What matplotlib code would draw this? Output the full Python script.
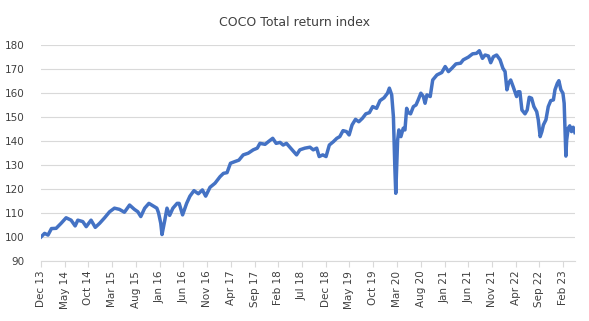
import numpy as np
import pandas as pd
import matplotlib
matplotlib.use('Agg')
import matplotlib.pyplot as plt
import matplotlib.dates as mdates

# COCO total return index
dates = ['2013-12-01', '2013-12-24', '2014-01-15', '2014-02-06', '2014-03-08', '2014-04-09',
         '2014-05-11', '2014-06-12', '2014-07-08', '2014-07-25', '2014-08-26', '2014-09-17',
         '2014-10-18', '2014-11-14', '2014-12-12', '2015-01-13', '2015-02-14', '2015-03-17',
         '2015-04-18', '2015-05-20', '2015-06-22', '2015-07-23', '2015-08-14', '2015-09-02',
         '2015-09-27', '2015-10-24', '2015-11-19', '2015-12-14', '2015-12-25', '2016-01-08',
         '2016-01-16', '2016-02-03', '2016-02-17', '2016-03-05', '2016-03-26', '2016-04-22',
         '2016-05-05', '2016-05-27', '2016-06-22', '2016-07-13', '2016-08-08', '2016-09-05',
         '2016-10-01', '2016-10-22', '2016-11-19', '2016-12-21', '2017-01-22', '2017-02-13',
         '2017-03-08', '2017-03-30', '2017-04-27', '2017-05-23', '2017-06-20', '2017-07-22',
         '2017-08-23', '2017-09-18', '2017-10-05', '2017-11-07', '2017-11-28', '2017-12-26',
         '2018-01-17', '2018-02-11', '2018-03-03', '2018-03-24', '2018-04-20', '2018-05-10',
         '2018-05-28', '2018-06-18', '2018-07-20', '2018-08-22', '2018-09-12', '2018-10-04',
         '2018-10-20', '2018-11-12', '2018-12-03', '2018-12-24', '2019-01-19', '2019-02-10',
         '2019-03-01', '2019-03-22', '2019-04-13', '2019-04-30', '2019-05-19', '2019-06-10',
         '2019-07-01', '2019-07-25', '2019-08-15', '2019-09-07', '2019-09-28', '2019-10-23',
         '2019-11-14', '2019-12-10', '2020-01-01', '2020-01-13', '2020-01-28', '2020-02-08',
         '2020-02-17', '2020-02-23', '2020-02-29', '2020-03-06', '2020-03-14', '2020-03-27',
         '2020-04-11', '2020-04-22', '2020-05-03', '2020-05-13', '2020-05-28', '2020-06-15',
         '2020-07-02', '2020-07-16', '2020-08-02', '2020-08-18', '2020-08-29', '2020-09-10',
         '2020-10-01', '2020-10-17', '2020-11-13', '2020-12-14', '2021-01-05', '2021-01-26',
         '2021-02-17', '2021-03-15', '2021-04-14', '2021-05-01', '2021-06-02', '2021-06-30',
         '2021-07-25', '2021-08-12', '2021-09-01', '2021-09-18', '2021-10-09', '2021-10-24',
         '2021-11-10', '2021-12-01', '2021-12-23', '2022-01-10', '2022-01-24', '2022-02-05',
         '2022-02-15', '2022-03-01', '2022-03-17', '2022-03-28', '2022-04-08', '2022-04-18',
         '2022-04-29', '2022-05-12', '2022-06-01', '2022-06-15', '2022-06-28', '2022-07-13',
         '2022-07-28', '2022-08-15', '2022-08-25', '2022-09-06', '2022-09-17', '2022-09-27',
         '2022-10-13', '2022-10-28', '2022-11-13', '2022-11-30', '2022-12-10', '2022-12-25',
         '2023-01-04', '2023-01-17', '2023-01-30', '2023-02-07', '2023-02-13', '2023-02-18',
         '2023-02-23', '2023-03-05', '2023-03-15', '2023-03-26', '2023-04-06', '2023-04-17']
index_values = [100.0, 101.5, 100.8, 103.5, 103.6, 105.7,
                108.0, 107.0, 104.6, 107.0, 106.4, 104.3,
                107.0, 104.0, 105.7, 108.0, 110.5, 112.0,
                111.5, 110.3, 113.3, 111.5, 110.5, 108.5,
                112.0, 114.0, 113.0, 112.0, 110.0, 105.7,
                101.0, 107.0, 112.0, 109.0, 112.0, 114.0,
                114.0, 109.2, 114.0, 117.0, 119.3, 118.0,
                119.6, 117.0, 120.7, 122.4, 125.1, 126.5,
                126.8, 130.7, 131.4, 132.0, 134.2, 134.9,
                136.3, 137.0, 139.0, 138.6, 139.7, 141.1,
                139.0, 139.4, 138.3, 139.0, 137.0, 135.5,
                134.2, 136.3, 137.0, 137.4, 136.3, 137.0,
                133.5, 134.2, 133.5, 138.3, 139.7, 141.1,
                141.8, 144.3, 143.9, 142.5, 146.7, 149.0,
                148.0, 149.5, 151.3, 151.8, 154.3, 153.6,
                156.8, 158.0, 159.9, 162.0, 159.2, 150.1,
                129.3, 118.2, 129.3, 140.4, 144.6, 141.8,
                145.3, 144.6, 153.6, 151.8, 151.3, 154.3,
                155.0, 157.1, 159.9, 158.5, 155.7, 159.2,
                158.5, 165.4, 167.5, 168.5, 171.0, 168.9,
                170.3, 172.1, 172.4, 173.8, 174.9, 176.3,
                176.5, 177.6, 174.4, 175.8, 175.4, 172.6,
                175.1, 175.8, 173.8, 170.3, 168.9, 161.3,
                164.0, 165.4, 162.6, 160.5, 158.5, 160.5,
                160.5, 152.9, 151.3, 152.9, 158.2, 157.8,
                154.3, 152.2, 148.8, 141.8, 143.9, 146.7,
                148.8, 154.3, 156.8, 157.1, 161.3, 164.0,
                165.1, 161.3, 159.9, 155.7, 143.2, 133.7,
                140.4, 145.3, 146.3, 143.9, 145.7, 143.5]

tick_dates = pd.date_range('2013-12-01', '2023-02-01', freq='5MS')
y_ticks = np.arange(90, 181, 10)

d = pd.to_datetime(dates)
txt = '#404040'

fig = plt.figure(figsize=(5.89, 3.21), dpi=100)
ax = fig.add_axes([0.0696, 0.187, 0.9065, 0.673])
ax.plot(d, index_values, color='#4472C4', lw=2.5, solid_joinstyle='round')

ax.set_ylim(90, 180)
ax.set_yticks(y_ticks)
ax.set_xlim(pd.Timestamp('2013-12-01'), pd.Timestamp('2023-04-17'))
ax.set_xticks(tick_dates)
ax.xaxis.set_major_formatter(mdates.DateFormatter('%b %y'))
ax.grid(axis='y', color='#d9d9d9', lw=0.8)
ax.set_axisbelow(True)
for s in ['top', 'right', 'left']:
    ax.spines[s].set_visible(False)
ax.spines['bottom'].set_color('#d9d9d9')
ax.spines['bottom'].set_linewidth(0.8)
ax.tick_params(axis='y', length=0, labelsize=7.5, labelcolor=txt, pad=12)
ax.tick_params(axis='x', length=4, color='#d9d9d9', labelsize=7.5, labelcolor=txt,
               labelrotation=90, pad=3)
fig.suptitle('COCO Total return index', fontsize=9, color=txt, y=0.95)

plt.savefig('out.png', dpi=100)
